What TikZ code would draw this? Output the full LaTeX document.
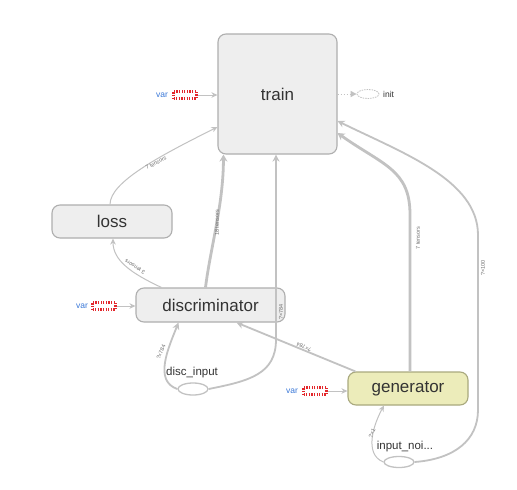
\documentclass[tikz,border=0pt]{standalone}
\usepackage{fontspec}
\setmainfont{Liberation Sans}
\usetikzlibrary{arrows.meta,calc,shapes.geometric}
\definecolor{boxfill}{HTML}{EEEEEE}
\definecolor{boxline}{HTML}{AFAFAF}
\definecolor{genfill}{HTML}{ECECBA}
\definecolor{genline}{HTML}{A9A97E}
\definecolor{edgecol}{HTML}{C2C2C2}
\definecolor{txtcol}{HTML}{333333}
\definecolor{lblcol}{HTML}{707070}
\definecolor{varblue}{HTML}{3A78D8}
\definecolor{varred}{HTML}{E3262B}
\tikzset{
  opbox/.style={draw=boxline, fill=boxfill, rounded corners=8pt, line width=1.1pt,
    text=txtcol, font=\fontsize{17}{17}\selectfont, inner sep=0pt},
  genbox/.style={opbox, draw=genline, fill=genfill},
  inell/.style={ellipse, draw=edgecol, line width=1.3pt, inner sep=0pt},
  inlabel/.style={text=txtcol, font=\fontsize{11.5}{11.5}\selectfont, inner sep=0pt},
  varicon/.style={draw=varred, line width=2.6pt, dash pattern=on 1.3pt off 1.3pt,
    minimum width=23pt, minimum height=7.5pt, inner sep=0pt},
  vartext/.style={text=varblue, font=\fontsize{8.5}{8.5}\selectfont, inner sep=0pt},
  elabel/.style={text=lblcol, font=\fontsize{5.5}{5.5}\selectfont, inner sep=0pt},
  thinedge/.style={draw=edgecol, line width=1pt, -{Stealth[length=6pt,width=5.5pt]}},
  midedge/.style={draw=edgecol, line width=1.8pt, -{Stealth[length=7pt,width=7pt]}},
  thickedge/.style={draw=edgecol, line width=2.8pt, -{Stealth[length=7pt,width=8pt]}},
}
\begin{document}
\begin{tikzpicture}[x=1pt,y=-1pt]
\useasboundingbox[fill=white] (0,0) rectangle (517,490);

% nodes
\node[opbox, minimum width=119pt, minimum height=120pt] (train) at (277.5,94) {train};
\node[opbox, minimum width=120pt, minimum height=33pt] (loss) at (112,221.5) {loss};
\node[opbox, minimum width=149pt, minimum height=34pt] (disc) at (210.5,305) {discriminator};
\node[genbox, minimum width=120pt, minimum height=33pt] (gen) at (408,388.5) {generator};
\node[inell, minimum width=30pt, minimum height=12pt] (dinput) at (193,389) {};
\node[inlabel] (dinputlbl) at (192,373) {disc\_input};
\node[inell, minimum width=30pt, minimum height=11pt] (ninput) at (399,462) {};
\node[inlabel] (ninputlbl) at (405,447) {input\_noi...};

% variables
\node[varicon] (v1) at (185,95) {};
\node[vartext] (v1t) at (162,95) {var};
\node[varicon] (v2) at (104,306) {};
\node[vartext] (v2t) at (82,306) {var};
\node[varicon] (v3) at (315,391) {};
\node[vartext] (v3t) at (292,391) {var};
\draw[thinedge] (v1.east) -- (v1.east -| train.west);
\draw[thinedge] (v2.east) -- (v2.east -| disc.west);
\draw[thinedge] (v3.east) -- (v3.east -| gen.west);

% init
\node[ellipse, draw=edgecol, dash pattern=on 1.5pt off 1pt, line width=0.8pt,
  minimum width=22pt, minimum height=9pt, inner sep=0pt] (init) at (368,94) {};
\node[text=txtcol, font=\fontsize{8.5}{8.5}\selectfont, inner sep=0pt, anchor=west] (initlbl) at (383,94) {init};
\draw[draw=edgecol, line width=1pt, dash pattern=on 1.5pt off 1.5pt,
  -{Triangle[length=6pt,width=6pt]}] (train.east |- init.west) -- (init.west);

% bend points
\coordinate (b4) at ($(train.south)+(-1.5,185)$);
\coordinate (b7) at ($(gen.north)+(2,-157)$);
\coordinate (b8a) at (478,410);
\coordinate (b8b) at (478,235);

% edges
\draw[thinedge] ($(loss.north)+(-2,0)$) .. controls +(0,-22) and +(-60,30) .. ($(train.west)+(0,33)$);
\draw[thinedge] ($(disc.north west)+(26,0)$) .. controls +(-30,-14) and +(0,22) .. ($(loss.south)+(1,0)$);
\draw[thickedge] ($(disc.north)+(-5,0)$) .. controls +(5,-40) and +(0,50) .. ($(train.south west)+(6,0)$);
\draw[midedge] (dinput.east) .. controls +(40,-8) and +(0,35) .. (b4) -- ($(train.south)+(-1.5,0)$);
\draw[midedge] (dinput.west) .. controls +(-24,-8) and +(-10,25) .. ($(disc.south)+(-32,0)$);
\draw[midedge] ($(gen.north west)+(8,0)$) -- ($(disc.south)+(26,0)$);
\draw[thickedge] ($(gen.north)+(2,0)$) -- (b7) .. controls +(0,-45) and +(45,32) .. ($(train.east)+(0,39)$);
\draw[midedge] (ninput.east) .. controls +(40,-3) and +(0,30) .. (b8a) -- (b8b) .. controls +(0,-55) and +(65,32) .. ($(train.east)+(0,27)$);
\draw[thinedge] (ninput.west) .. controls +(-20,-8) and +(-10,18) .. ($(gen.south)+(-24,0)$);

% edge labels
\node[elabel, rotate=28] (l1) at (156,163) {7 tensors};
\node[elabel, rotate=149] (l2) at (135,267) {3 tensors};
\node[elabel, rotate=90] (l3) at (217,223) {18 tensors};
\node[elabel, rotate=90] (l4) at (281,312) {?×784};
\node[elabel, rotate=68] (l5) at (161,352) {?×784};
\node[elabel, rotate=157] (l6) at (304,347) {?×784};
\node[elabel, rotate=90] (l7) at (418,238) {7 tensors};
\node[elabel, rotate=90] (l8) at (483,268) {?×100};
\node[elabel, rotate=65] (l9) at (372,433) {?×1};
\end{tikzpicture}
\end{document}
